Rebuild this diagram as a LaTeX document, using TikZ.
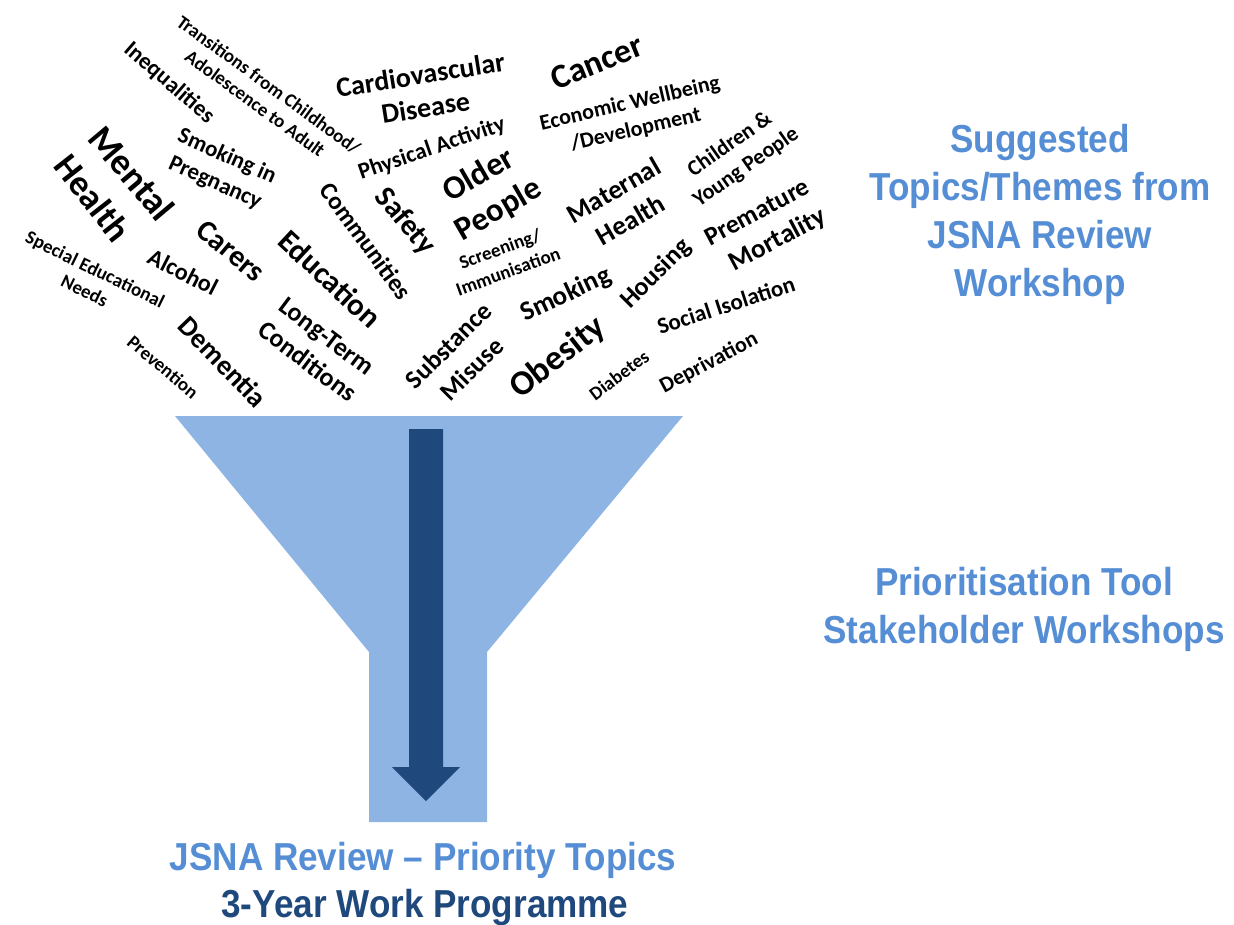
\documentclass[tikz,border=0pt]{standalone}
\usepackage{fontspec}
\setmainfont{Carlito}
\newfontfamily\cloudfont{Carlito}
\newfontfamily\headfont{Liberation Sans Bold}[FakeStretch=0.9]
\definecolor{funnelblue}{HTML}{8EB4E3}
\definecolor{arrowblue}{HTML}{1F497D}
\definecolor{headblue}{HTML}{558ED5}
\tikzset{
  wd/.style 2 args={font=\cloudfont\bfseries\fontsize{#1}{#2}\selectfont,
    align=center, inner sep=0pt, text=black},
  headtext/.style 2 args={font=\headfont\fontsize{#1}{#2}\selectfont,
    align=center, inner sep=0pt},
}
\begin{document}
\begin{tikzpicture}[x=1pt,y=-1pt]
\useasboundingbox (0,0) rectangle (1234,925);

% funnel body
\fill[funnelblue] (175,416) -- (683,416) -- (487,652) -- (487,822)
  -- (369,822) -- (369,652) -- cycle;
% block arrow inside the funnel
\fill[arrowblue] (409,429) -- (443,429) -- (443,767) -- (460,767)
  -- (426,801) -- (392,767) -- (409,767) -- cycle;

% word cloud of suggested topics
\node[wd={19}{23}, rotate=-36] (trans) at (262,94) {Transitions from Childhood/\\Adolescence to Adult};
\node[wd={23}{28}, rotate=-41] (ineq) at (169,83) {Inequalities};
\node[wd={37}{45}, rotate=-50] (mental) at (132,173) {Mental};
\node[wd={36}{44}, rotate=-52] (health) at (93,198) {Health};
\node[wd={23}{29}, rotate=-24] (smokpreg) at (221,170) {Smoking in\\Pregnancy};
\node[wd={30}{36}, rotate=-40] (carers) at (231,251) {Carers};
\node[wd={24}{29}, rotate=-27] (alcohol) at (183,272) {Alcohol};
\node[wd={19}{24}, rotate=-26] (sen) at (90,280) {Special Educational\\Needs};
\node[wd={31}{38}, rotate=-43] (educ) at (330,279) {Education};
\node[wd={25}{30}, rotate=-54] (comm) at (366,241) {Communities};
\node[wd={26}{32}, rotate=-37] (ltc) at (317,349) {Long-Term\\Conditions};
\node[wd={28}{34}, rotate=-46] (dementia) at (223,362) {Dementia};
\node[wd={19}{23}, rotate=-40] (prevention) at (163,367) {Prevention};
\node[wd={28}{33}, rotate=9] (cardio) at (423,91) {Cardiovascular\\Disease};
\node[wd={34}{41}, rotate=22] (cancer) at (597,62) {Cancer};
\node[wd={22}{27}, rotate=13] (econ) at (633,117) {Economic Wellbeing\\/Development};
\node[wd={23}{27}, rotate=19] (physact) at (432,149) {Physical Activity};
\node[wd={33}{40}, rotate=30] (older) at (489,193) {Older\\People};
\node[wd={30}{36}, rotate=-50] (safety) at (405,222) {Safety};
\node[wd={19}{24}, rotate=20] (screen) at (504,260) {Screening/\\Immunisation};
\node[wd={27}{34}, rotate=30] (maternal) at (622,205) {Maternal\\Health};
\node[wd={22}{28}, rotate=35] (children) at (738,156) {Children \&\\Young People};
\node[wd={26}{32}, rotate=28] (premature) at (757,212) {Premature};
\node[wd={27}{33}, rotate=28] (mortality) at (778,240) {Mortality};
\node[wd={26}{32}, rotate=45] (housing) at (656,274) {Housing};
\node[wd={27}{33}, rotate=25] (smoking) at (566,295) {Smoking};
\node[wd={26}{33}, rotate=45] (subst) at (460,357) {Substance\\Misuse};
\node[wd={35}{42}, rotate=38] (obesity) at (558,358) {Obesity};
\node[wd={23}{28}, rotate=18] (social) at (726,305) {Social Isolation};
\node[wd={19}{23}, rotate=37] (diabetes) at (619,375) {Diabetes};
\node[wd={22}{27}, rotate=28] (depriv) at (709,363) {Deprivation};

% stage labels (the base anchor sits on the last line of each block)
\node[headtext={39}{48}, text=headblue, anchor=base] (suggested) at (1040,297)
  {Suggested\\Topics/Themes from\\JSNA Review\\Workshop};
\node[headtext={39}{48}, text=headblue, anchor=base] (prioritisation) at (1024,643)
  {Prioritisation Tool\\Stakeholder Workshops};
\node[headtext={39}{36}, text=headblue, anchor=base] (priority) at (423,870)
  {JSNA Review – Priority Topics};
\node[headtext={39}{36}, text=arrowblue, anchor=base] (programme) at (425,917)
  {3-Year Work Programme};
\end{tikzpicture}
\end{document}
